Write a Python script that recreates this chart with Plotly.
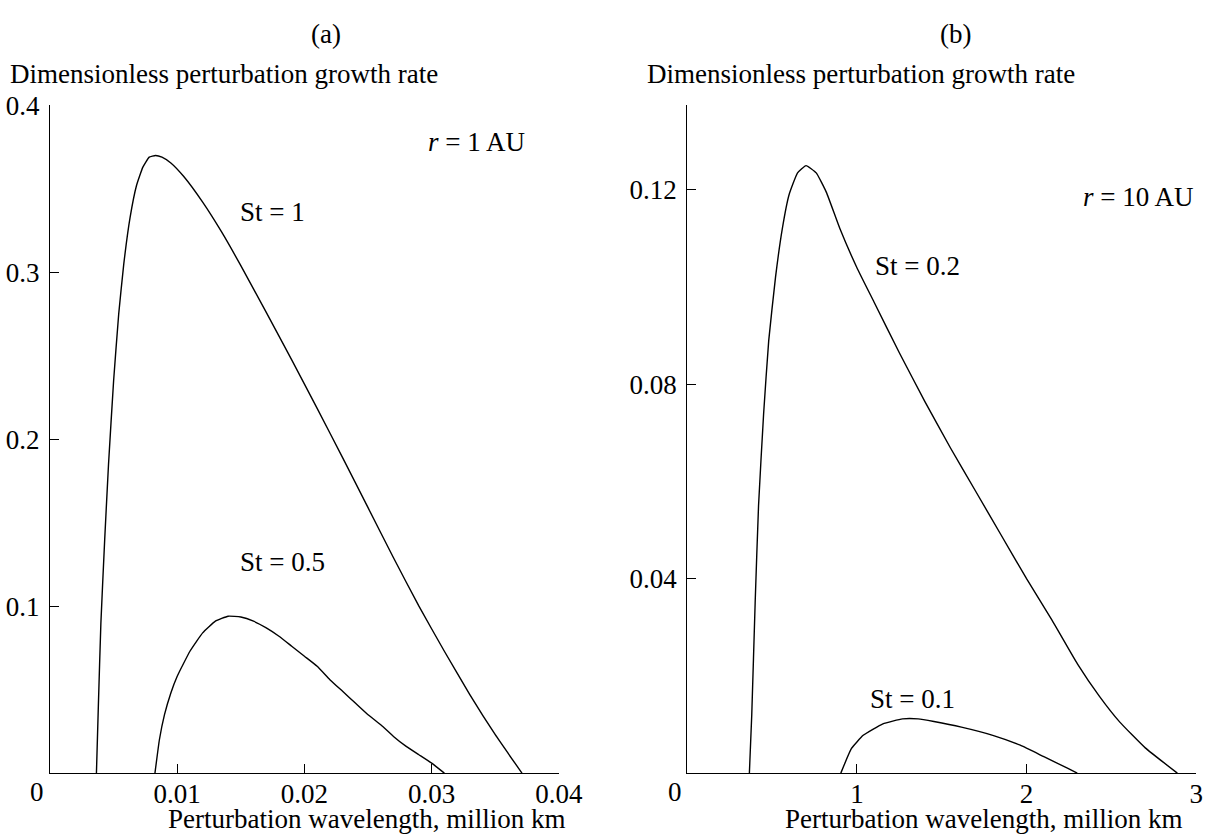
import plotly.graph_objects as go

# ---------------- data ----------------
# Panel (a): r = 1 AU, wavelength in million km
a_st1_x = [0.00365, 0.0038, 0.0040, 0.0043, 0.0046, 0.0050, 0.0054, 0.0058, 0.0063, 0.0068,
           0.0073, 0.0078, 0.0083, 0.0088, 0.0095, 0.0105, 0.0120, 0.0135, 0.0150, 0.0170,
           0.0190, 0.0210, 0.0230, 0.0250, 0.0270, 0.0290, 0.0310, 0.0330, 0.0350, 0.0371]
a_st1_y = [0.0, 0.04, 0.09, 0.14, 0.185, 0.235, 0.275, 0.305, 0.333, 0.352,
           0.363, 0.369, 0.370, 0.369, 0.3655, 0.3575, 0.342, 0.324, 0.304, 0.276,
           0.2475, 0.2185, 0.189, 0.159, 0.129, 0.100, 0.073, 0.047, 0.023, 0.0]

a_st05_x = [0.00825, 0.0086, 0.0090, 0.0095, 0.0100, 0.0110, 0.0120, 0.0130, 0.0140, 0.0150,
            0.0160, 0.0170, 0.0180, 0.0190, 0.0200, 0.0210, 0.0220, 0.0230, 0.0240, 0.0250,
            0.0260, 0.0270, 0.0280, 0.0290, 0.0300, 0.0310]
a_st05_y = [0.0, 0.020, 0.035, 0.048, 0.058, 0.073, 0.084, 0.091, 0.094, 0.0935,
            0.091, 0.087, 0.082, 0.076, 0.070, 0.064, 0.056, 0.049, 0.042, 0.035,
            0.029, 0.022, 0.016, 0.011, 0.006, 0.0]

# Panel (b): r = 10 AU
b_st02_x = [0.366, 0.38, 0.40, 0.42, 0.45, 0.48, 0.52, 0.56, 0.60, 0.65, 0.70, 0.76, 0.82,
            0.90, 1.00, 1.10, 1.25, 1.40, 1.55, 1.70, 1.85, 2.00, 2.15, 2.30, 2.43, 2.55,
            2.70, 2.889]
b_st02_y = [0.0, 0.012, 0.035, 0.055, 0.074, 0.089, 0.102, 0.112, 0.119, 0.1235, 0.125,
            0.1235, 0.1195, 0.112, 0.104, 0.097, 0.0865, 0.0765, 0.0670, 0.0580, 0.0490,
            0.0400, 0.0315, 0.0225, 0.0158, 0.0105, 0.0052, 0.0]

b_st01_x = [0.905, 0.968, 1.037, 1.153, 1.269, 1.361, 1.454, 1.616, 1.801, 1.963, 2.102, 2.241, 2.299]
b_st01_y = [0.0, 0.00507, 0.00778, 0.01015, 0.01116, 0.01116, 0.01062, 0.00947, 0.00778,
            0.00575, 0.00338, 0.00101, 0.0]

a_xticks = [0.01, 0.02, 0.03, 0.04]
a_xticktext = ["0.01", "0.02", "0.03", "0.04"]
a_yticks = [0.1, 0.2, 0.3, 0.4]
a_yticktext = ["0.1", "0.2", "0.3", "0.4"]
b_xticks = [1, 2, 3]
b_xticktext = ["1", "2", "3"]
b_yticks = [0.04, 0.08, 0.12]
b_yticktext = ["0.04", "0.08", "0.12"]

y_title = "Dimensionless perturbation growth rate"
x_title = "Perturbation wavelength, million km"

# ---------------- figure ----------------
W, H = 1228, 835
FONT = "Liberation Serif, Times New Roman, serif"
FS = 27

def px_x(p):
    return p / W

def px_y(p):
    return 1 - p / H

line = dict(color="black", width=1.4, shape="spline", smoothing=0.4)

fig = go.Figure()
fig.add_trace(go.Scatter(x=a_st1_x, y=a_st1_y, mode="lines", line=line, xaxis="x", yaxis="y"))
fig.add_trace(go.Scatter(x=a_st05_x, y=a_st05_y, mode="lines", line=line, xaxis="x", yaxis="y"))
fig.add_trace(go.Scatter(x=b_st02_x, y=b_st02_y, mode="lines", line=line, xaxis="x2", yaxis="y2"))
fig.add_trace(go.Scatter(x=b_st01_x, y=b_st01_y, mode="lines", line=line, xaxis="x2", yaxis="y2"))

ax_common = dict(showgrid=False, zeroline=False, showline=True, linecolor="black", linewidth=1.4,
                 ticks="inside", ticklen=9, tickwidth=1.4, tickcolor="black",
                 tickfont=dict(family=FONT, size=FS, color="black"), fixedrange=True)

y0, y1 = px_y(772), px_y(92)
fig.update_layout(
    width=W, height=H, margin=dict(l=0, r=0, t=0, b=0),
    paper_bgcolor="white", plot_bgcolor="white", showlegend=False,
    font=dict(family=FONT, size=FS, color="black"),
    xaxis=dict(domain=[px_x(51), px_x(570)], range=[0, 0.04], tickvals=a_xticks,
               ticktext=a_xticktext, anchor="y", ticklabelstandoff=-4, **ax_common),
    yaxis=dict(domain=[y0, y1], range=[0, 0.4], tickvals=a_yticks, ticktext=a_yticktext,
               anchor="x", ticklabelstandoff=4, **ax_common),
    xaxis2=dict(domain=[px_x(701), px_x(1220)], range=[0, 3], tickvals=b_xticks,
                ticktext=b_xticktext, anchor="y2", ticklabelstandoff=-4, **ax_common),
    yaxis2=dict(domain=[y0, y1], range=[0, 0.1374], tickvals=b_yticks, ticktext=b_yticktext,
                anchor="x2", ticklabelstandoff=4, **ax_common),
)

ann = []
def paper_text(text, x, y, xanchor="center", yanchor="middle"):
    ann.append(dict(text=text, x=px_x(x), y=px_y(y), xref="paper", yref="paper",
                    xanchor=xanchor, yanchor=yanchor, showarrow=False,
                    font=dict(family=FONT, size=FS, color="black")))

def data_text(text, x, y, xref, yref):
    ann.append(dict(text=text, x=x, y=y, xref=xref, yref=yref, xanchor="center",
                    yanchor="middle", showarrow=False,
                    font=dict(family=FONT, size=FS, color="black")))

paper_text("(a)", 332, 19)
paper_text("(b)", 975, 19)
paper_text(y_title, 8, 60, xanchor="left")
paper_text(y_title, 658, 60, xanchor="left")
paper_text(x_title, 578, 819, xanchor="right")
paper_text(x_title, 1208, 819, xanchor="right")
paper_text("0", 38, 791)
paper_text("0", 688, 791)

data_text("<i>r</i> = 1 AU", 0.0335, 0.378, "x", "y")
data_text("St = 1", 0.0175, 0.336, "x", "y")
data_text("St = 0.5", 0.0183, 0.1265, "x", "y")
data_text("<i>r</i> = 10 AU", 2.66, 0.1186, "x2", "y2")
data_text("St = 0.2", 1.36, 0.1044, "x2", "y2")
data_text("St = 0.1", 1.33, 0.0152, "x2", "y2")

fig.update_layout(annotations=ann)
fig.write_html("out.html", config={"displayModeBar": False},
               post_script="document.body.style.margin='0';document.body.style.overflow='hidden';")
